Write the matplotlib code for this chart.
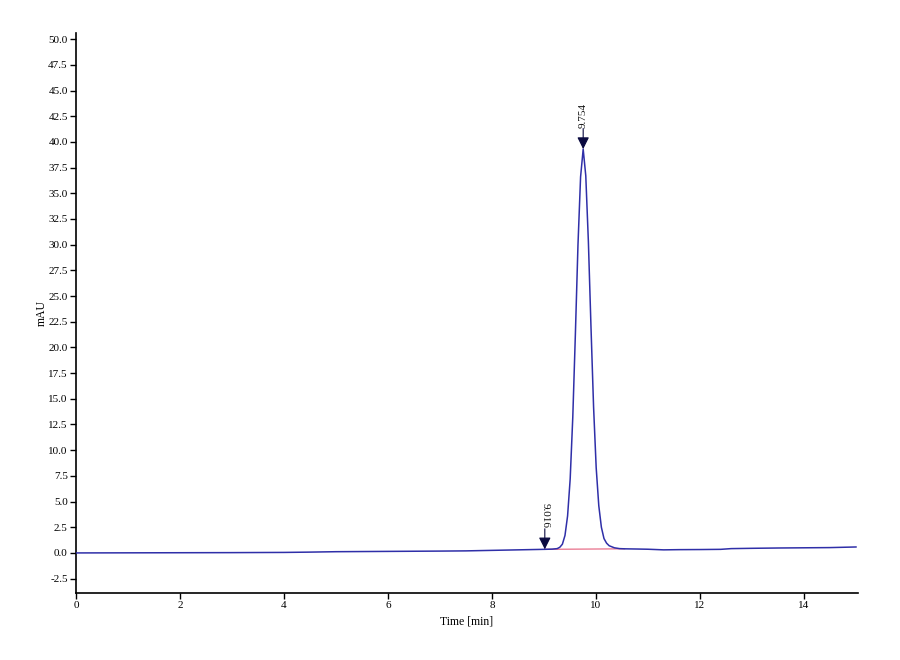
import numpy as np
import matplotlib
matplotlib.use("Agg")
import matplotlib.pyplot as plt
from matplotlib.ticker import MultipleLocator, FormatStrFormatter

plt.rcParams['font.family'] = ['Liberation Serif', 'DejaVu Serif']

# chromatogram trace (time in min, signal in mAU)
time_min = [0.0, 1.0, 2.0, 3.0, 4.0, 4.5, 5.0, 6.0, 7.0, 7.5, 8.0, 8.5, 8.8,
            9.004, 9.154, 9.254, 9.304, 9.354, 9.404, 9.454, 9.504, 9.554,
            9.604, 9.654, 9.704, 9.754, 9.804, 9.854, 9.904, 9.954, 10.004,
            10.054, 10.104, 10.154, 10.204, 10.254, 10.354, 10.454, 10.554,
            10.8, 11.0, 11.3, 11.6, 12.0, 12.4, 12.6, 13.0, 13.5, 14.0, 14.5, 15.0]
signal_mau = [0.0, 0.01, 0.02, 0.03, 0.05, 0.08, 0.12, 0.15, 0.18, 0.2, 0.25, 0.3, 0.33,
              0.35, 0.37, 0.42, 0.55, 0.85, 1.7, 3.6, 7.2, 13.2,
              21.3, 30.0, 36.6, 39.3, 36.7, 30.3, 22.0, 14.2, 8.3,
              4.6, 2.5, 1.4, 0.95, 0.7, 0.5, 0.42, 0.4,
              0.38, 0.36, 0.3, 0.32, 0.33, 0.35, 0.42, 0.45, 0.48, 0.5, 0.52, 0.58]

# integration baseline under the peak
base_t = [9.016, 10.55]
base_y = [0.35, 0.40]

# peak marks
peak_t = [9.016, 9.754]
peak_y = [0.35, 39.3]
peak_lbl = ["9.016", "9.754"]
peak_rot = [270, 90]

fig = plt.figure(figsize=(9, 6.6), dpi=100)
ax = fig.add_axes([0.0844, 0.1015, 0.869, 0.8485])

ax.plot(base_t, base_y, color='#e8708a', lw=0.9, zorder=2)
ax.plot(time_min, signal_mau, color='#2f2fa8', lw=1.1, zorder=3)

for t, y, lbl, rot in zip(peak_t, peak_y, peak_lbl, peak_rot):
    ax.annotate('', xy=(t, y), xytext=(t, y + 2.0),
                arrowprops=dict(arrowstyle='-|>', color='#0a0a40', lw=0.8,
                                mutation_scale=18, shrinkA=0, shrinkB=0), zorder=4)
    ax.text(t, y + 2.1, lbl, rotation=rot, ha='center', va='bottom',
            fontsize=8, color='#111111')

ax.set_xlim(0, 15.04)
ax.set_ylim(-3.9, 50.6)
ax.xaxis.set_major_locator(MultipleLocator(2))
ax.yaxis.set_major_locator(MultipleLocator(2.5))
ax.yaxis.set_major_formatter(FormatStrFormatter('%.1f'))

for s in ['top', 'right']:
    ax.spines[s].set_visible(False)
for s in ['left', 'bottom']:
    ax.spines[s].set_linewidth(1.2)

ax.tick_params(direction='out', length=4, width=1, labelsize=8, pad=2)
ax.set_xlabel('Time [min]', fontsize=8.5, labelpad=4)
ax.set_ylabel('mAU', fontsize=8.5, labelpad=0)

fig.savefig('out.png', dpi=100)
